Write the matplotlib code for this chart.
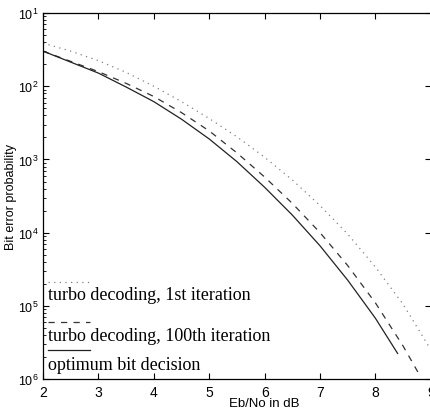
import numpy as np
import matplotlib
matplotlib.use("Agg")
import matplotlib.pyplot as plt
from matplotlib.ticker import FixedLocator, LogLocator, NullFormatter

plt.rcParams['font.family'] = 'Liberation Sans'
plt.rcParams['mathtext.fontset'] = 'custom'
plt.rcParams['mathtext.rm'] = 'Liberation Sans'

# Eb/No (dB) and log10 of bit error probability
snr_opt = [2, 2.5, 3, 3.5, 4, 4.5, 5, 5.5, 6, 6.5, 7, 7.5, 8, 8.4]
log_opt = [-1.52, -1.67, -1.82, -2.01, -2.21, -2.45, -2.72, -3.03, -3.38,
           -3.76, -4.18, -4.65, -5.17, -5.65]

snr_100 = [2, 2.5, 3, 3.5, 4, 4.5, 5, 5.5, 6, 6.5, 7, 7.5, 8, 8.5, 8.8]
log_100 = [-1.52, -1.66, -1.80, -1.96, -2.14, -2.36, -2.61, -2.91, -3.24,
           -3.60, -4.00, -4.45, -4.96, -5.55, -5.95]

snr_1 = [2, 2.5, 3, 3.5, 4, 4.5, 5, 5.5, 6, 6.5, 7, 7.5, 8, 8.5, 9]
log_1 = [-1.41, -1.52, -1.65, -1.81, -2.00, -2.21, -2.44, -2.69, -2.97,
         -3.28, -3.63, -4.02, -4.47, -4.98, -5.60]

labels = ["turbo decoding, 1st iteration",
          "turbo decoding, 100th iteration",
          "optimum bit decision"]
ytick_exp = [1, 2, 3, 4, 5, 6]

fig = plt.figure(figsize=(4.30, 4.14), dpi=100)
ax = fig.add_axes([0.1, 0.082, 0.902, 0.884])

styles = [dict(color="#808080", lw=0.9, linestyle=(0, (1, 3.5))),
          dict(color="#333333", lw=0.9, linestyle=(0, (5, 5))),
          dict(color="#222222", lw=0.9)]

ax.plot(snr_1, 10.0 ** np.array(log_1), **styles[0])
ax.plot(snr_100, 10.0 ** np.array(log_100), **styles[1])
ax.plot(snr_opt, 10.0 ** np.array(log_opt), **styles[2])

ax.set_yscale("log")
ax.set_xlim(2, 9)
ax.set_ylim(1e-6, 1e-1)
ax.set_xticks(range(2, 10))
ax.set_xticklabels([str(v) for v in range(2, 10)], fontsize=10)
ax.yaxis.set_major_locator(FixedLocator([10.0 ** -e for e in ytick_exp]))
ax.set_yticklabels([r"$10^{%d}$" % e for e in ytick_exp], fontsize=9)
ax.yaxis.set_minor_locator(LogLocator(base=10, subs=np.arange(2, 10)))
ax.yaxis.set_minor_formatter(NullFormatter())
ax.tick_params(direction="in", top=True, right=True, length=4, width=0.8, pad=4)
ax.tick_params(axis="y", pad=3)
ax.tick_params(which="minor", direction="in", length=2, width=0.6)
for s in ax.spines.values():
    s.set_linewidth(0.9)

ax.set_xlabel("Eb/No in dB", fontsize=9.5)
ax.xaxis.set_label_coords(0.57, -0.05)
ax.set_ylabel("Bit error probability", fontsize=9)
ax.yaxis.set_label_coords(-0.068, 0.5)

# legend in old style: line sample above its text
line_y = [0.265, 0.155, 0.08]
text_y = [0.23, 0.12, 0.04]
for lab, st, ly, ty in zip(labels, styles, line_y, text_y):
    ax.plot([0.012, 0.12], [ly, ly], transform=ax.transAxes, clip_on=False, **st)
    ax.text(0.012, ty, lab, transform=ax.transAxes, fontsize=13,
            family="Liberation Serif", va="center", ha="left")

fig.savefig("out.png", dpi=100)
